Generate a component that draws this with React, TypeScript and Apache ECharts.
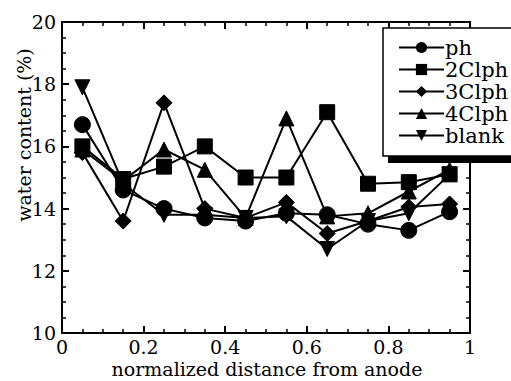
import React, { useEffect, useRef } from "react";
import * as echarts from "echarts";

const positions = [0.05, 0.15, 0.25, 0.35, 0.45, 0.55, 0.65, 0.75, 0.85, 0.95];
const seriesNames = ["ph", "2Clph", "3Clph", "4Clph", "blank"];
const ph = [16.7, 14.6, 14.0, 13.7, 13.6, 13.85, 13.8, 13.5, 13.3, 13.9];
const clph2 = [16.0, 14.95, 15.35, 16.0, 15.0, 15.0, 17.1, 14.8, 14.85, 15.1];
const clph3 = [15.8, 13.6, 17.4, 14.0, 13.7, 14.2, 13.2, 13.6, 14.05, 14.15];
const clph4 = [15.9, 14.9, 15.9, 15.25, 13.7, 16.9, 13.75, 13.85, 14.55, 15.25];
const blank = [17.9, 14.8, 13.8, 13.8, 13.7, 13.75, 12.7, 13.6, 13.85, 15.1];

const FONT = "DejaVu Serif";

export default function App() {
  const ref = useRef<HTMLDivElement>(null);
  useEffect(() => {
    if (!ref.current) return;
    const chart = echarts.init(ref.current, null, { renderer: "svg" });
    const values = [ph, clph2, clph3, clph4, blank];
    const symbols = ["circle", "rect", "diamond", "triangle", "triangle"];
    const sizes = [16, 15, 16, 15, 15];
    const rotates = [0, 0, 0, 0, 180];
    const axisCommon = {
      axisLine: { show: true, onZero: false, lineStyle: { color: "#000", width: 2 } },
      axisTick: { show: true, inside: true, length: 7, lineStyle: { color: "#000", width: 2 } },
      minorTick: { show: true, splitNumber: 4, length: 4, lineStyle: { color: "#000", width: 1.5 } },
      splitLine: { show: false },
      minorSplitLine: { show: false },
    };
    chart.setOption({
      animation: false,
      backgroundColor: "#fff",
      grid: { left: 62, right: 41, top: 22, bottom: 48 },
      xAxis: [
        {
          type: "value", min: 0, max: 1, interval: 0.2, position: "bottom",
          ...axisCommon,
          axisLabel: { color: "#000", fontFamily: FONT, fontSize: 19, margin: 5, lineHeight: 18 },
        },
        {
          type: "value", min: 0, max: 1, interval: 0.2, position: "top",
          ...axisCommon,
          axisLabel: { show: false },
        },
      ],
      yAxis: [
        {
          type: "value", min: 10, max: 20, interval: 2, position: "left",
          ...axisCommon,
          axisLabel: { color: "#000", fontFamily: FONT, fontSize: 19, margin: 6 },
        },
        {
          type: "value", min: 10, max: 20, interval: 2, position: "right",
          ...axisCommon,
          axisLabel: { show: false },
        },
      ],
      legend: {
        orient: "vertical",
        left: 393,
        top: 32,
        z: 20,
        itemWidth: 45,
        itemHeight: 14,
        itemGap: 1,
        data: seriesNames,
        textStyle: { color: "#000", fontFamily: FONT, fontSize: 21, lineHeight: 21, padding: [0, 0, 0, -4] },
        selectedMode: false,
      },
      graphic: [
        { type: "rect", z: 10, shape: { x: 388, y: 35, width: 140, height: 128 }, style: { fill: "#000" } },
        { type: "rect", z: 11, shape: { x: 383, y: 28, width: 140, height: 128 }, style: { fill: "#fff", stroke: "#000", lineWidth: 1.5 } },
        {
          type: "text", z: 12, x: 24, y: 135, rotation: Math.PI / 2,
          style: { text: "water content (%)", fill: "#000", fontFamily: FONT, fontSize: 19, align: "center", verticalAlign: "middle" },
        },
        {
          type: "text", z: 12, x: 267, y: 369,
          style: { text: "normalized distance from anode", fill: "#000", fontFamily: FONT, fontSize: 19, align: "center", verticalAlign: "middle" },
        },
      ],
      series: seriesNames.map((name, i) => ({
        name,
        type: "line",
        data: positions.map((x, j) => [x, values[i][j]]),
        symbol: symbols[i],
        symbolSize: sizes[i],
        symbolRotate: rotates[i],
        showSymbol: true,
        lineStyle: { color: "#000", width: 2 },
        itemStyle: { color: "#000", borderColor: "#000" },
        z: 3,
      })),
    });
    return () => chart.dispose();
  }, []);
  return <div ref={ref} style={{ width: 511, height: 381, position: "absolute", left: 0, top: 0 }} />;
}
